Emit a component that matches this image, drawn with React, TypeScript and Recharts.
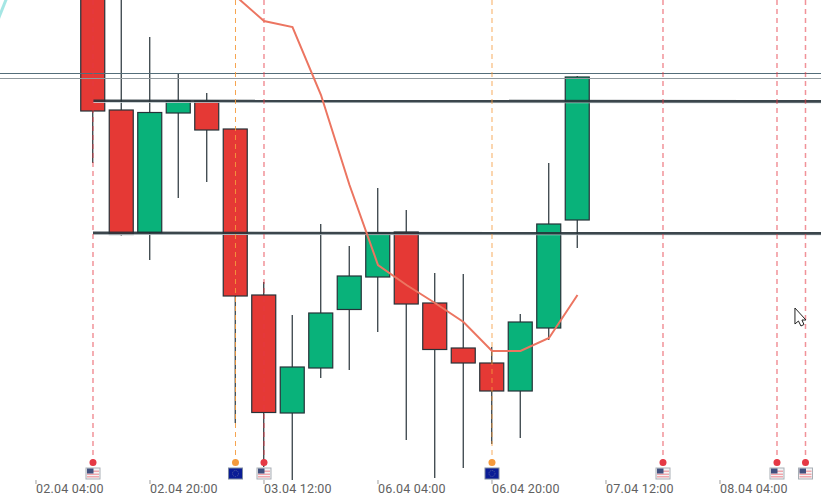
import { ComposedChart, Bar, Line, XAxis, YAxis, ReferenceLine, ReferenceDot } from 'recharts'

// Candle slots are 4h apart. Prices have no scale in the picture, so values are height above the time axis.
const candleSlots = [2, 3, 4, 5, 6, 7, 8, 9, 10, 11, 12, 13, 14, 15, 16, 17, 18, 19]
const opens = [520, 370, 247.5, 367, 379, 351, 185, 67, 112, 170.5, 203, 248, 177, 132, 117, 89, 152, 260]
const closes = [369, 245.5, 367.5, 379, 350, 184, 67.5, 113, 167, 204, 247, 176, 130.5, 117, 89, 158, 256, 403]
const highs = [540, 520, 443, 407, 387, 351, 198, 165, 256, 234, 292, 270, 207, 206, 133, 166, 317, 404]
const lows = [317, 244.5, 220, 282, 298, 57, 13, 0, 102, 110, 148, 40, 2, 12, 36, 42, 140, 232]
const trend = [null, null, null, null, null, 484, 459, 453, 385, 295, 215, 195, 177, 158, 129, 129, 142, 185]

const tickSlots = [0, 4, 8, 12, 16, 20, 24]
const tickLabels = ['02.04 04:00', '02.04 20:00', '03.04 12:00', '06.04 04:00', '06.04 20:00', '07.04 12:00', '08.04 04:00']

const usEvents = [2, 8, 22, 26, 27]
const euEvents = [7, 16]

const levels = [406.5, 401.5]
const supportLines = [
  { from: 379.2, to: 378.6 },
  { from: 247.1, to: 246.6 },
]
const cornerCurve = [
  { slot: -2, v: 413 },
  { slot: -1, v: 484 },
]

const RED = '#e53935'
const GREEN = '#09b27a'
const DARK = '#263238'
const SLOT_MIN = -1.263
const SLOT_MAX = 27.544

const chartData = candleSlots.map((slot, i) => ({
  slot,
  range: [lows[i], highs[i]],
  open: opens[i],
  close: closes[i],
  trend: trend[i],
}))

function Candle(props: any) {
  const { x, y, width, height, payload } = props
  const [low, high] = payload.range
  const perUnit = height / (high - low)
  const toY = (v: number) => y + (high - v) * perUnit
  const top = toY(Math.max(payload.open, payload.close))
  const bottom = toY(Math.min(payload.open, payload.close))
  const mid = x + width / 2
  return (
    <g>
      <line x1={mid} x2={mid} y1={y} y2={y + height} stroke={DARK} strokeWidth={1.2} />
      <rect
        x={x}
        y={top}
        width={width}
        height={bottom - top}
        fill={payload.close >= payload.open ? GREEN : RED}
        stroke={DARK}
        strokeWidth={1.2}
      />
    </g>
  )
}

function UsFlag({ cx, cy }: any) {
  const x = cx - 7
  const y = cy - 5.5
  return (
    <g>
      <rect x={x} y={y} width={14} height={11} fill="#f4f4f6" stroke="#a9afb5" strokeWidth={1} />
      <rect x={x + 1} y={y + 2.5} width={12} height={1.5} fill="#f0a7ad" />
      <rect x={x + 1} y={y + 5.5} width={12} height={1.5} fill="#f0a7ad" />
      <rect x={x + 1} y={y + 8} width={12} height={1.5} fill="#f0a7ad" />
      <rect x={x + 1} y={y + 0.5} width={6.5} height={5} fill="#41507e" />
    </g>
  )
}

function EuFlag({ cx, cy }: any) {
  return (
    <g>
      <rect x={cx - 7} y={cy - 5.5} width={14} height={11} fill="#0a1c96" stroke="#7f8ba0" strokeWidth={1} />
      <circle cx={cx} cy={cy} r={3} fill="none" stroke="#5560a0" strokeWidth={1} strokeDasharray="1 1" />
    </g>
  )
}

function Pointer({ cx, cy }: any) {
  const x = cx
  const y = cy
  const path = `M${x} ${y}L${x} ${y + 16}L${x + 3.5} ${y + 13}L${x + 6} ${y + 18}L${x + 9} ${y + 16.5}L${x + 7} ${y + 12}L${x + 11} ${y + 12}Z`
  return <path d={path} fill="#fff" stroke="#222" strokeWidth={1} />
}

function EventMarker(slot: number, color: string, opacity: number, width: number) {
  return (
    <ReferenceLine
      key={`event-${slot}`}
      segment={[{ x: slot, y: 480 }, { x: slot, y: 18 }]}
      stroke={color}
      strokeOpacity={opacity}
      strokeWidth={width}
      strokeDasharray="5 4"
    />
  )
}

export default function App() {
  return (
    <div style={{ position: 'absolute', left: 0, top: 0, width: 821, height: 499, background: '#fff', overflow: 'hidden' }}>
      <ComposedChart
        width={821}
        height={499}
        data={chartData}
        margin={{ top: 0, right: 0, bottom: 0, left: 0 }}
        style={{ fontFamily: 'Roboto' }}
      >
        <XAxis
          dataKey="slot"
          type="number"
          domain={[SLOT_MIN, SLOT_MAX]}
          allowDataOverflow
          ticks={tickSlots}
          interval={0}
          height={19}
          axisLine={false}
          tickSize={4}
          tickMargin={0}
          tickLine={{ stroke: '#9e9e9e' }}
          tick={{ fontSize: 12.5, fill: '#616161', textAnchor: 'start', letterSpacing: 0.2 }}
          tickFormatter={(v: number) => tickLabels[tickSlots.indexOf(v)]}
        />
        <YAxis hide type="number" domain={[0, 480]} allowDataOverflow />

        <Bar dataKey="range" barSize={24} shape={Candle} isAnimationActive={false} />

        {levels.map((v, i) => (
          <ReferenceLine key={v} y={v} stroke={i === 0 ? '#546e7a' : '#90999e'} strokeWidth={1} />
        ))}
        {supportLines.map((s) => (
          <ReferenceLine
            key={`shade-${s.from}`}
            segment={[{ x: 2, y: s.from - 1.5 }, { x: SLOT_MAX, y: s.to - 1.5 }]}
            stroke="#cfd8dc"
            strokeWidth={1}
          />
        ))}
        {supportLines.map((s) => (
          <ReferenceLine
            key={s.from}
            segment={[{ x: 2, y: s.from }, { x: SLOT_MAX, y: s.to }]}
            stroke={DARK}
            strokeOpacity={0.9}
            strokeWidth={2.6}
          />
        ))}

        {usEvents.map((slot) => EventMarker(slot, '#e53945', 0.55, 1.5))}
        {euEvents.map((slot) => EventMarker(slot, '#f59a3c', slot === 7 ? 0.9 : 0.55, slot === 7 ? 1 : 1.5))}

        <Line
          dataKey="trend"
          stroke="#ec7561"
          strokeWidth={2}
          dot={false}
          activeDot={false}
          connectNulls={false}
          isAnimationActive={false}
        />
        <Line
          data={cornerCurve}
          dataKey="v"
          stroke="#a5e6e4"
          strokeWidth={3}
          dot={false}
          activeDot={false}
          isAnimationActive={false}
        />

        {usEvents.map((slot) => (
          <ReferenceDot key={`dot-${slot}`} x={slot} y={17.5} r={3.5} fill="#e53945" stroke="none" />
        ))}
        {euEvents.map((slot) => (
          <ReferenceDot key={`dot-${slot}`} x={slot} y={17.5} r={3.5} fill="#f59a3c" stroke="none" />
        ))}
        {usEvents.map((slot) => (
          <ReferenceDot key={`flag-${slot}`} x={slot} y={6.5} shape={UsFlag} />
        ))}
        {euEvents.map((slot) => (
          <ReferenceDot key={`flag-${slot}`} x={slot} y={6.5} shape={EuFlag} />
        ))}
        <ReferenceDot x={26.63} y={172} shape={Pointer} />
      </ComposedChart>
    </div>
  )
}
